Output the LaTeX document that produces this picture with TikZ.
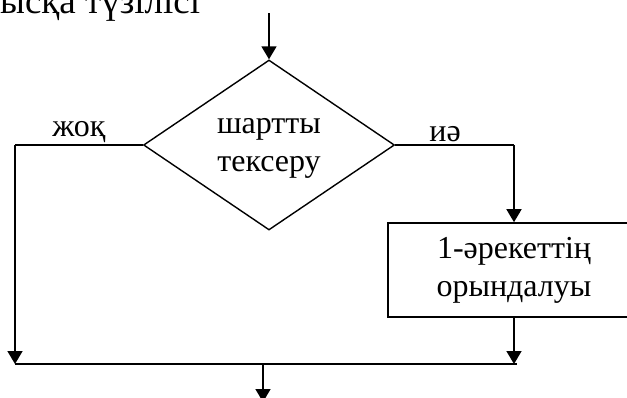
\documentclass[tikz,border=0pt]{standalone}
\usepackage{fontspec}
\setmainfont{Liberation Serif}
\usetikzlibrary{shapes.geometric,arrows.meta}

\begin{document}
\begin{tikzpicture}[x=1pt,y=-1pt,
  every node/.style={font=\fontsize{32}{38}\selectfont},
  flow/.style={line width=1.6pt},
  arr/.style={flow,-{Triangle[length=13pt,width=15pt]}},
  cond/.style={diamond,draw,line width=1.4pt,aspect=1.5,inner sep=0pt,
    minimum width=251pt,minimum height=170pt,align=center},
  act/.style={rectangle,draw,line width=1.6pt,inner sep=0pt,
    minimum width=252pt,minimum height=94pt,align=center},
  lbl/.style={inner sep=2pt}]
  \useasboundingbox (0,0) rectangle (627,397);

  % heading line, partly outside the page
  \node[anchor=base west,inner sep=0pt,font=\fontsize{37}{44}\selectfont]
    (head) at (0,13) {ысқа түзілісі};

  % decision and action blocks
  \node[cond] (test) at (269,145) {\raisebox{-4pt}{\begin{tabular}{@{}c@{}}шартты\\тексеру\end{tabular}}};
  \node[act] (do) at (514,270) {1-әрекеттің\\орындалуы};

  % corner points of the branches
  \coordinate (in) at (269,13);
  \coordinate (nocorner) at (15,145);
  \coordinate (nojoin) at (15,364);
  \coordinate (yescorner) at (514,145);
  \coordinate (yesjoin) at (514,364);
  \coordinate (yesend) at (517,364);
  \coordinate (merge) at (263,364);
  \coordinate (out) at (263,402);

  \draw[arr] (in) -- (test.north);
  \draw[flow] (test.west) -- node[lbl,above] (no) {жоқ} (nocorner);
  \draw[arr] (nocorner) -- (nojoin);
  \draw[flow] (test.east) -- node[lbl,above,pos=0.42] (yes) {иә} (yescorner);
  \draw[arr] (yescorner) -- (do.north);
  \draw[arr] (do.south) -- (yesjoin);
  \draw[flow] (nojoin) -- (yesend);
  \draw[arr] (merge) -- (out);
\end{tikzpicture}
\end{document}
